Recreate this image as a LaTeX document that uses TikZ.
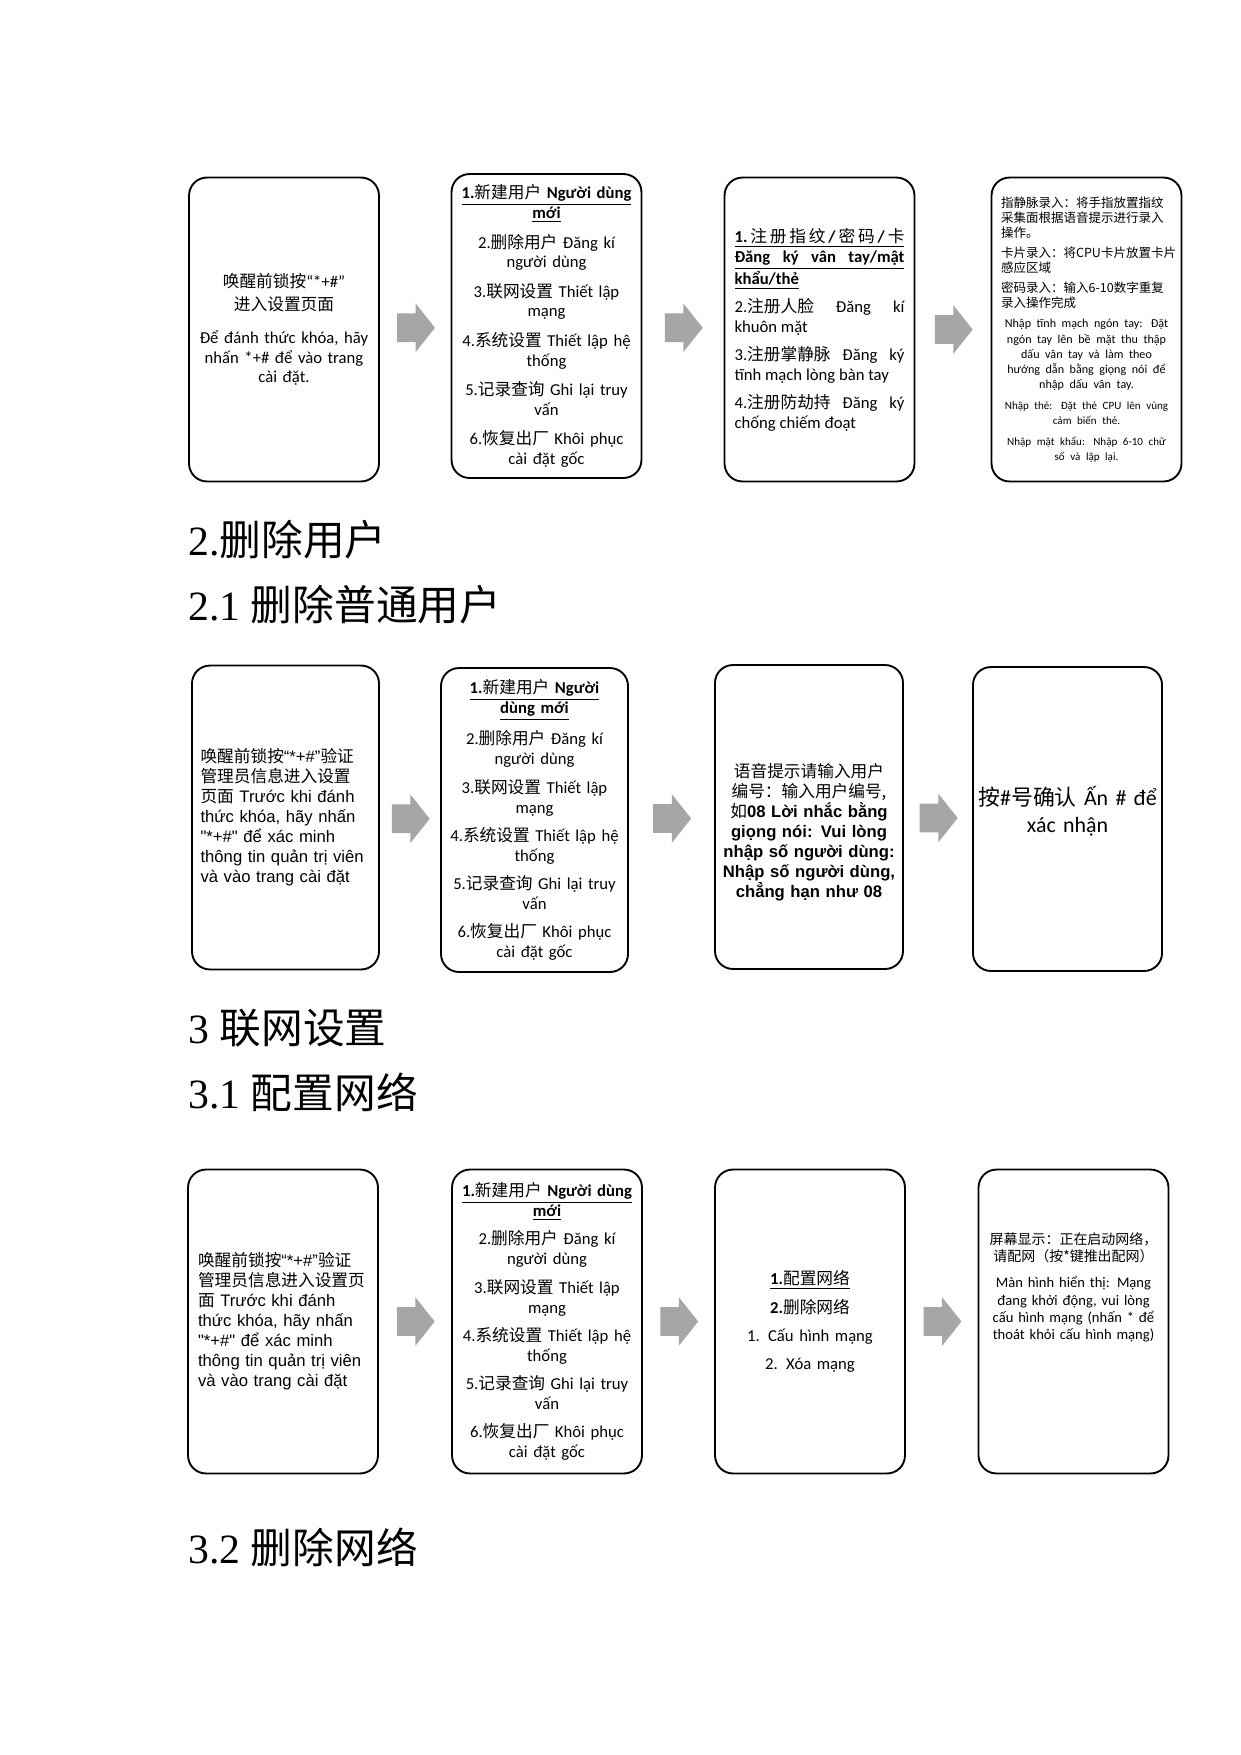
\documentclass[tikz,border=0pt]{standalone}
\usepackage{fontspec}
\setmainfont{Carlito}
\newfontfamily\zhfont{Noto Sans CJK SC}
\newfontfamily\arialfont{Liberation Sans}
\newfontfamily\timesfont{Liberation Serif}
\usetikzlibrary{shapes.arrows, calc}
\definecolor{arrowgray}{RGB}{166,166,166}
\newcommand\zh[1]{{\zhfont #1}}
\tikzset{
    card/.style = {rectangle, draw, line width=0.9pt, rounded corners=8.6pt, minimum width=91.1pt, minimum height=145.8pt, inner sep=0pt, text width=81.5pt, align=center, font=\fontsize{8}{9.4}\selectfont},
    blockarrow/.style = {single arrow, fill=arrowgray, draw=none, inner xsep=0pt, inner ysep=6.7pt, minimum height=18.2pt, minimum width=23pt, single arrow head extend=4.8pt, single arrow tip angle=103, xshift=-2.4pt},
    heading/.style = {anchor=base west, inner sep=0pt, font=\timesfont\fontsize{20}{24}\selectfont}
}
\begin{document}
\begin{tikzpicture}[x=0.4797pt, y=-0.4797pt]
\fill[white] (0,0) rectangle (1241,1755);
\useasboundingbox (0,0) rectangle (1241,1755);

% Row 1
\node (b11) [card] at (284,329.5) {\zh{唤醒前锁按}“*+\#”\\[1.4pt] \zh{进入设置页面}\\[6.7pt] Để đánh thức khóa, hãy\\ nhấn *+\# để vào trang\\ cài đặt.};

\node (b12) [card] at (546.5,326) {\underline{\textbf{1.}\zh{新建用户} \textbf{Người dùng}}\\ \underline{\textbf{mới}}\\[4.8pt] 2.\zh{删除用户} Đăng kí\\ người dùng\\[4.8pt] 3.\zh{联网设置} Thiết lập\\ mạng\\[4.8pt] 4.\zh{系统设置} Thiết lập hệ\\ thống\\[4.8pt] 5.\zh{记录查询} Ghi lại truy\\ vấn\\[4.8pt] 6.\zh{恢复出厂} Khôi phục\\ cài đặt gốc};

\node (b13) [card, align=justify, font=\fontsize{8}{9.6}\selectfont] at (819.5,329.5) {\underline{\makebox[81.5pt][s]{\textbf{1.}\hfil\zh{注}\hfil\zh{册}\hfil\zh{指}\hfil\zh{纹}\hfil\textbf{/}\hfil\zh{密}\hfil\zh{码}\hfil\textbf{/}\hfil\zh{卡}}}\linebreak \underline{\makebox[81.5pt][s]{\textbf{Đăng ký vân tay/mật}}}\linebreak \underline{\textbf{khẩu/thẻ}}\\[3.8pt] 2.\zh{注册人脸} Đăng kí\linebreak khuôn mặt\\[3.8pt] 3.\zh{注册掌静脉} Đăng ký\linebreak tĩnh mạch lòng bàn tay\\[3.8pt] 4.\zh{注册防劫持} Đăng ký\linebreak chống chiếm đoạt};

\node (b14) [card, align=left, text width=82pt] at (1086.5,329.5) {{\zhfont\fontsize{6}{7.2}\selectfont 指静脉录入：将手指放置指纹\\ 采集面根据语音提示进行录入\\ 操作。\par}\vspace{2.4pt}
{\zhfont\fontsize{6}{7.2}\selectfont 卡片录入：将CPU卡片放置卡片\\ 感应区域\par}\vspace{2.4pt}
{\zhfont\fontsize{6}{7.2}\selectfont 密码录入：输入6-10数字重复\\ 录入操作完成\par}\vspace{2.6pt}
{\centering\fontsize{5.8}{7.3}\selectfont Nhập tĩnh mạch ngón tay: Đặt\\ ngón tay lên bề mặt thu thập\\ dấu vân tay và làm theo\\ hướng dẫn bằng giọng nói để\\ nhập dấu vân tay.\par}\vspace{2.8pt}
{\centering\fontsize{5.3}{7.2}\selectfont Nhập thẻ: Đặt thẻ CPU lên vùng\\ cảm biến thẻ.\par}\vspace{2.8pt}
{\centering\fontsize{5.3}{7.2}\selectfont Nhập mật khẩu: Nhập 6-10 chữ\\ số và lặp lại.\par}};

% Row 2
\node (b21) [card, align=left, minimum width=89.7pt, font=\arialfont\fontsize{8}{9.6}\selectfont] at (285.5,817.5) {\zh{唤醒前锁按}“*+\#”\zh{验证}\\ \zh{管理员信息进入设置}\\ \zh{页面} Trước khi đánh\\ thức khóa, hãy nhấn\\ "*+\#" để xác minh\\ thông tin quản trị viên\\ và vào trang cài đặt};

\node (b22) [card, minimum width=89.7pt, font=\fontsize{8}{9.6}\selectfont] at (534.5,820) {\underline{\textbf{1.}\zh{新建用户} \textbf{Người}}\\ \underline{\textbf{dùng mới}}\\[3.9pt] 2.\zh{删除用户} Đăng kí\\ người dùng\\[3.9pt] 3.\zh{联网设置} Thiết lập\\ mạng\\[3.9pt] 4.\zh{系统设置} Thiết lập hệ\\ thống\\[3.9pt] 5.\zh{记录查询} Ghi lại truy\\ vấn\\[3.9pt] 6.\zh{恢复出厂} Khôi phục\\ cài đặt gốc};

\node (b23) [card, text width=88pt, minimum width=90.2pt, font=\arialfont\bfseries\fontsize{8}{9.6}\selectfont] at (809,817) {\rule{0pt}{21.5pt}\zh{\mdseries 语音提示请输入用户}\\ \zh{\mdseries 编号：输入用户编号,}\\ \zh{\mdseries 如}08 Lời nhắc bằng\\ giọng nói: Vui lòng\\ nhập số người dùng:\\ Nhập số người dùng,\\ chẳng hạn như 08};

\node (b24) [card, text width=86pt, minimum width=90.7pt, font=\fontsize{10.5}{12.8}\selectfont] at (1067.5,819) {\zh{按}\#\zh{号确认} Ấn \# để\\ xác nhận\rule[-9pt]{0pt}{0pt}};

% Row 3
\node (b31) [card, align=left, font=\arialfont\fontsize{8}{9.6}\selectfont] at (283,1321.5) {\zh{唤醒前锁按}“*+\#”\zh{验证}\\ \zh{管理员信息进入设置页}\\ \zh{面} Trước khi đánh\\ thức khóa, hãy nhấn\\ "*+\#" để xác minh\\ thông tin quản trị viên\\ và vào trang cài đặt};

\node (b32) [card, font=\fontsize{8}{9.6}\selectfont] at (547,1321.5) {\underline{\textbf{1.}\zh{新建用户} \textbf{Người dùng}}\\ \underline{\textbf{mới}}\\[3.9pt] 2.\zh{删除用户} Đăng kí\\ người dùng\\[3.9pt] 3.\zh{联网设置} Thiết lập\\ mạng\\[3.9pt] 4.\zh{系统设置} Thiết lập hệ\\ thống\\[3.9pt] 5.\zh{记录查询} Ghi lại truy\\ vấn\\[3.9pt] 6.\zh{恢复出厂} Khôi phục\\ cài đặt gốc};

\node (b33) [card, font=\fontsize{8}{9.6}\selectfont] at (810,1321.5) {\underline{\textbf{1.}\zh{配置网络}}\\[4pt] \textbf{2.}\zh{删除网络}\\[4pt] 1. Cấu hình mạng\\[4pt] 2. Xóa mạng};

\node (b34) [card, text width=84pt, font=\fontsize{7}{8.3}\selectfont] at (1073.5,1321.5) {\zh{\fontsize{6.7}{8.3}\selectfont 屏幕显示：正在启动网络，\\ 请配网（按*键推出配网）}\\[4.2pt] Màn hình hiển thị: Mạng\\ đang khởi động, vui lòng\\ cấu hình mạng (nhấn * để\\ thoát khỏi cấu hình mạng)\rule[-34pt]{0pt}{0pt}};

% Headings
\node (h2) [heading] at (188,555) {2.\zh{删除用户}};
\node (h21) [heading] at (188,620) {2.1 \zh{删除普通用户}};
\node (h3) [heading] at (188,1043) {3 \zh{联网设置}};
\node (h31) [heading] at (188,1108) {3.1 \zh{配置网络}};
\node (h32) [heading] at (188,1563) {3.2 \zh{删除网络}};

% Arrows
\node (a11) [blockarrow] at ($(b11.east)!0.5!(b12.west)$) {};
\node (a12) [blockarrow] at ($(b12.east)!0.5!(b13.west)$) {};
\node (a13) [blockarrow] at ($(b13.east)!0.5!(b14.west)$) {};
\node (a21) [blockarrow] at ($(b21.east)!0.5!(b22.west)$) {};
\node (a22) [blockarrow] at ($(b22.east)!0.5!(b23.west)$) {};
\node (a23) [blockarrow] at ($(b23.east)!0.5!(b24.west)$) {};
\node (a31) [blockarrow] at ($(b31.east)!0.5!(b32.west)$) {};
\node (a32) [blockarrow] at ($(b32.east)!0.5!(b33.west)$) {};
\node (a33) [blockarrow] at ($(b33.east)!0.5!(b34.west)$) {};

\end{tikzpicture}
\end{document}
